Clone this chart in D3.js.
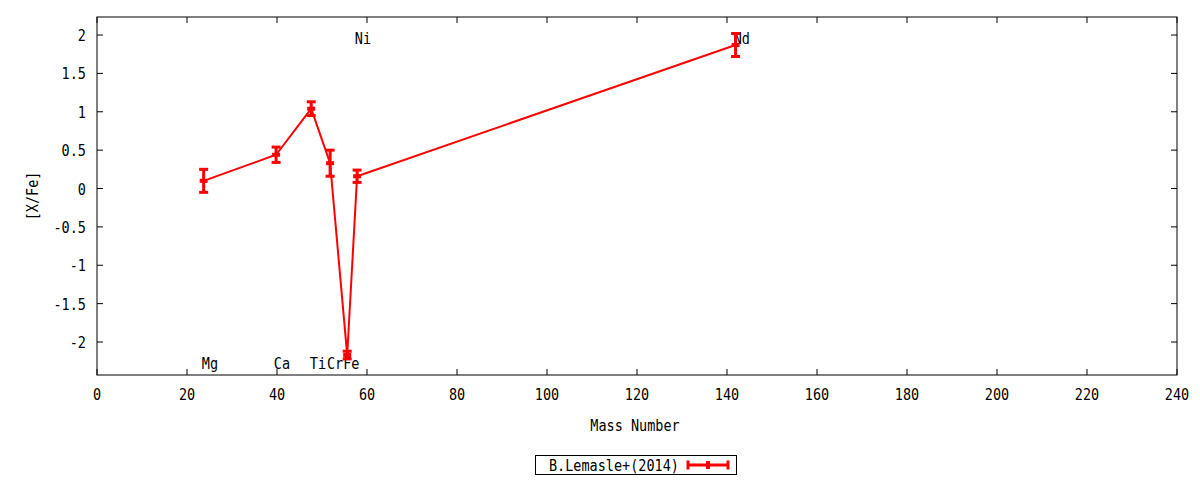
<!DOCTYPE html>
<html><head><meta charset="utf-8">
<script src="https://cdn.jsdelivr.net/npm/d3@7"></script>
<style>
body{margin:0;background:#fff;}
text{font-family:"DejaVu Sans Mono",monospace;font-size:13.5px;fill:#000;}
</style></head>
<body><svg id="c" width="1200" height="480"></svg>
<script>
const elements = ["Mg","Ca","Ti","Cr","Fe","Ni","Nd"];
const massNumbers = [23.7,39.8,47.6,51.8,55.6,57.8,141.9];
const xfeValues = [0.10,0.44,1.04,0.33,-2.17,0.16,1.87];
const xfeErrors = [0.15,0.10,0.09,0.17,0.05,0.08,0.15];
const labelMass = [23.3,39.3,47.3,51.1,54.7,57.3,141.5];
const labelY = [-2.28,-2.28,-2.28,-2.28,-2.28,1.96,1.96];
const xTicks = [0,20,40,60,80,100,120,140,160,180,200,220,240];
const yTicks = [2,1.5,1,0.5,0,-0.5,-1,-1.5,-2];
const seriesName = "B.Lemasle+(2014)";

const svg = d3.select("#c");
const L=97,R=1177,T=17,B=375;
const x = d3.scaleLinear().domain([0,240]).range([L,R]);
const y = d3.scaleLinear().domain([-2.43,2.235]).range([B,T]);
const red="#ff0000";

function txt(px,py,s,anchor,rot){
  let tr=`translate(${px},${py})`+(rot?` rotate(${rot})`:"")+" scale(1,1.2)";
  return svg.append("text").attr("transform",tr).attr("text-anchor",anchor||"start").text(s);
}

// axes
const ax = svg.append("g");
const fmt = d=>String(d);
xTicks.forEach(t=>{
  ax.append("line").attr("x1",x(t)).attr("x2",x(t)).attr("y1",B).attr("y2",B-6).attr("stroke","#000");
  ax.append("line").attr("x1",x(t)).attr("x2",x(t)).attr("y1",T).attr("y2",T+6).attr("stroke","#000");
  txt(x(t),400,fmt(t),"middle");
});
yTicks.forEach(t=>{
  ax.append("line").attr("x1",L).attr("x2",L+6).attr("y1",y(t)).attr("y2",y(t)).attr("stroke","#000");
  ax.append("line").attr("x1",R).attr("x2",R-6).attr("y1",y(t)).attr("y2",y(t)).attr("stroke","#000");
  txt(86,y(t)+6,fmt(t),"end");
});
ax.append("rect").attr("x",L).attr("y",T).attr("width",R-L).attr("height",B-T).attr("fill","none").attr("stroke","#000");

txt(635,431,"Mass Number","middle");
txt(38,196,"[X/Fe]","middle",-90);

// element labels
elements.forEach((e,i)=>{
  txt(x(labelMass[i]),y(labelY[i])+6,e);
});

// line
const pts = massNumbers.map((m,i)=>[m,xfeValues[i],xfeErrors[i]]);
svg.append("path").datum(pts)
  .attr("d",d3.line().x(d=>x(d[0])).y(d=>y(d[1])))
  .attr("fill","none").attr("stroke",red).attr("stroke-width",2);
const g = svg.append("g");
pts.forEach(d=>{
  const cx=x(d[0]);
  g.append("line").attr("x1",cx).attr("x2",cx).attr("y1",y(d[1]-d[2])).attr("y2",y(d[1]+d[2])).attr("stroke",red).attr("stroke-width",3);
  [d[1]-d[2],d[1]+d[2]].forEach(v=>{
    g.append("line").attr("x1",cx-4.5).attr("x2",cx+4.5).attr("y1",y(v)).attr("y2",y(v)).attr("stroke",red).attr("stroke-width",3);
  });
  g.append("rect").attr("x",cx-4).attr("y",y(d[1])-2).attr("width",8).attr("height",4).attr("fill",red);
});

// legend
svg.append("rect").attr("x",535.5).attr("y",455.5).attr("width",201).attr("height",19).attr("fill","none").attr("stroke","#000");
txt(549,471,seriesName);
svg.append("line").attr("x1",688).attr("x2",728).attr("y1",465).attr("y2",465).attr("stroke",red).attr("stroke-width",3);
[688,728].forEach(xx=>svg.append("line").attr("x1",xx).attr("x2",xx).attr("y1",460.5).attr("y2",469.5).attr("stroke",red).attr("stroke-width",3));
svg.append("rect").attr("x",706).attr("y",461).attr("width",4).attr("height",8).attr("fill",red);
</script></body></html>
